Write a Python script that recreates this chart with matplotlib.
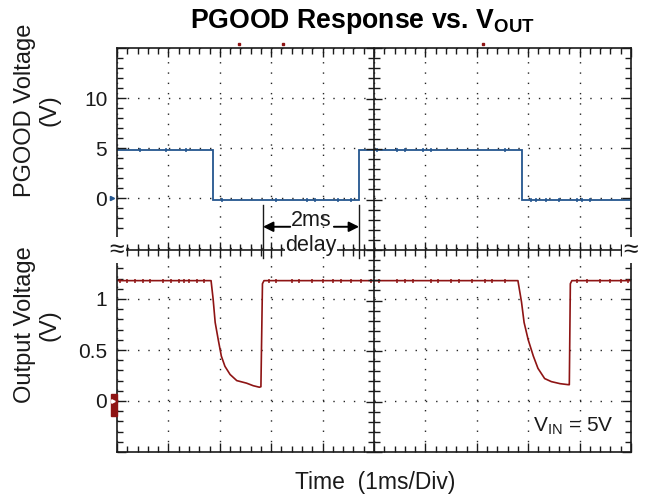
import matplotlib
matplotlib.use("Agg")
import matplotlib.pyplot as plt
from matplotlib.patches import Rectangle
from matplotlib.ticker import MultipleLocator, FixedLocator, FixedFormatter

plt.rcParams['font.family'] = ['Liberation Sans', 'DejaVu Sans']
plt.rcParams['mathtext.fontset'] = 'custom'
plt.rcParams['mathtext.rm'] = 'Liberation Sans'
plt.rcParams['mathtext.bf'] = 'Liberation Sans:bold'

# ---------------- data (time in ms = divisions) ----------------
pgood_edges = [0, 1.87, 4.71, 7.88, 10]
pgood_levels = [4.8, -0.2, 4.8, -0.2]

vout_t = [0, 1.83, 1.87, 1.91, 1.97, 2.03, 2.10, 2.20, 2.33, 2.52, 2.65, 2.77,
          2.80, 2.83, 2.86,
          7.80, 7.87, 7.92, 8.00, 8.10, 8.19, 8.32, 8.45, 8.62, 8.78, 8.80,
          8.82, 8.85, 10]
vout_v = [1.18, 1.18, 1.00, 0.77, 0.60, 0.44, 0.34, 0.26, 0.20, 0.175, 0.15, 0.135,
          0.14, 1.15, 1.18,
          1.18, 0.97, 0.77, 0.60, 0.44, 0.32, 0.22, 0.19, 0.17, 0.16, 0.16,
          1.15, 1.18, 1.18]

# small noise spikes visible on the traces
pgood_glitch_t = [0.45, 0.95, 1.35, 2.05, 3.10, 3.70, 3.85, 4.30, 4.55,
                  5.05, 5.45, 5.60, 5.95, 6.10, 7.55, 8.05, 8.15, 8.35, 8.60,
                  8.95, 9.05, 9.20]
pgood_glitch_v = [4.8, 4.8, 4.8, -0.2, -0.2, -0.2, -0.2, -0.2, -0.2,
                  4.8, 4.8, 4.8, 4.8, 4.8, 4.8, -0.2, -0.2, -0.2, -0.2,
                  -0.2, -0.2, -0.2]
vout_glitch_t = [0.05, 0.2, 0.35, 0.5, 0.65, 0.9, 1.05, 1.2, 1.3, 1.4, 1.55, 1.7,
                 2.95, 3.1, 3.4, 3.55, 3.8, 4.0, 4.2, 4.35, 4.55, 4.75, 4.95,
                 5.1, 5.45, 5.6, 5.75, 6.1, 6.25, 6.5, 6.65, 6.9, 7.15, 7.3, 7.55,
                 8.95, 9.15, 9.4, 9.6, 9.8, 9.95]
vout_glitch_v = [1.18] * len(vout_glitch_t)

pgood_ticks = [-5, 0, 5, 10, 15]
pgood_labels = ['', '0', '5', '10', '']
vout_ticks = [-0.5, 0, 0.5, 1.0, 1.5]
vout_labels = ['', '0', '0.5', '1', '']
trigger_marks_t = [2.38, 3.23, 7.12]
delay_start = 2.84   # Vout recovered
delay_end = pgood_edges[2]   # PGOOD asserted

BLUE = '#24568f'
RED = '#8e1414'
INK = '#1a1a1a'

W, H = 647, 503
fig = plt.figure(figsize=(W / 100, H / 100), dpi=100)
L, R = 117 / W, 631 / W
B, T, M = 1 - 452 / H, 1 - 48 / H, 1 - 248 / H

ax1 = fig.add_axes([L, M, R - L, T - M])
ax2 = fig.add_axes([L, B, R - L, M - B])
ax0 = fig.add_axes([L, B, R - L, T - B], facecolor='none')

grid_kw = dict(color='0.15', lw=1.0, linestyle=(0, (1, 6.4)))

for ax, ticks, labels, minor, lim in [
        (ax1, pgood_ticks, pgood_labels, 1.0, (-5, 15)),
        (ax2, vout_ticks, vout_labels, 0.1, (-0.5, 1.5))]:
    ax.set_xlim(0, 10)
    ax.set_ylim(*lim)
    ax.xaxis.set_major_locator(MultipleLocator(1))
    ax.xaxis.set_minor_locator(MultipleLocator(0.2))
    ax.yaxis.set_major_locator(FixedLocator(ticks))
    ax.yaxis.set_major_formatter(FixedFormatter(labels))
    ax.yaxis.set_minor_locator(MultipleLocator(minor))
    ax.grid(True, which='major', **grid_kw)
    ax.tick_params(which='both', direction='in', left=True, right=True,
                   labelbottom=False, colors=INK, labelsize=15, pad=7)
    ax.tick_params(which='major', length=6.5, width=1.0)
    ax.tick_params(which='minor', length=4, width=1.0)
    for s in ax.spines.values():
        s.set_linewidth(1.2)
        s.set_color(INK)

ax1.tick_params(which='both', top=True, bottom=False)
ax1.spines['bottom'].set_visible(False)
ax2.tick_params(which='both', top=False, bottom=True)
ax2.spines['top'].set_visible(False)

# traces
ax1.stairs(pgood_levels, pgood_edges, color=BLUE, lw=1.3, baseline=None)
ax1.plot(pgood_glitch_t, pgood_glitch_v, ls='none', marker='|', ms=3, mew=1.1, color=BLUE)
ax2.plot(vout_t, vout_v, color=RED, lw=1.2)
ax2.plot(vout_glitch_t, vout_glitch_v, ls='none', marker='|', ms=3, mew=1.1, color=RED)

# channel markers
ax1.plot([-0.09], [0], marker='>', ms=3, color=BLUE, clip_on=False)
ax2.add_patch(Rectangle((-0.117, -0.15), 0.117, 0.22, color=RED, clip_on=False, zorder=4))
ax2.plot([-0.07], [0], marker='>', ms=2.5, color='white', clip_on=False, zorder=5)
ax1.plot(trigger_marks_t, [15.4] * len(trigger_marks_t), ls='none', marker='s', ms=2,
         color=RED, clip_on=False)

# centre graticule (cross with in/out ticks)
ax0.set_xlim(0, 10)
ax0.set_ylim(0, 8)
ax0.spines['top'].set_visible(False)
ax0.spines['right'].set_visible(False)
ax0.spines['left'].set_position(('data', 5))
ax0.spines['bottom'].set_position(('data', 4))
for s in ('left', 'bottom'):
    ax0.spines[s].set_linewidth(1.2)
    ax0.spines[s].set_color(INK)
ax0.xaxis.set_major_locator(MultipleLocator(1))
ax0.xaxis.set_minor_locator(MultipleLocator(0.2))
ax0.yaxis.set_major_locator(MultipleLocator(1))
ax0.yaxis.set_minor_locator(MultipleLocator(0.2))
ax0.tick_params(which='both', direction='inout', labelleft=False, labelbottom=False,
                colors=INK, width=1.0)
ax0.tick_params(which='major', length=11)
ax0.tick_params(which='minor', length=8)

# broken-axis marks
for xx in (0, 10):
    ax0.text(xx, 4, '≈', ha='center', va='center', fontsize=19, color=INK,
             clip_on=False, zorder=6,
             bbox=dict(boxstyle='square,pad=0.05', fc='white', ec='none'))

# 2 ms delay annotation
for xx in (delay_start, delay_end):
    ax0.plot([xx, xx], [3.84, 4.89], color=INK, lw=1.0, zorder=5)
ax0.annotate('', xy=(delay_start, 4.46), xytext=(3.37, 4.46),
             arrowprops=dict(arrowstyle='-|>', color='black', lw=1.4,
                             mutation_scale=15, shrinkA=0, shrinkB=0))
ax0.annotate('', xy=(delay_end, 4.46), xytext=(4.22, 4.46),
             arrowprops=dict(arrowstyle='-|>', color='black', lw=1.4,
                             mutation_scale=15, shrinkA=0, shrinkB=0))
ax0.text(3.77, 4.58, '2ms', ha='center', va='center', fontsize=15.5, color=INK, zorder=6)
ax0.text(3.77, 4.08, 'delay', ha='center', va='center', fontsize=15.5, color=INK, zorder=6,
         bbox=dict(boxstyle='square,pad=0.02', fc='white', ec='none'))

ax0.text(9.65, 0.5, r'$\mathrm{V_{IN}}$ = 5V', ha='right', va='center',
         fontsize=15, color=INK, zorder=6)

# labels
fig.text(362 / W, 1 - 21 / H, r'PGOOD Response vs. $\mathbf{V_{OUT}}$',
         ha='center', va='center', fontsize=19.2, fontweight='bold', color='black')
fig.text(375 / W, 1 - 482 / H, 'Time  (1ms/Div)', ha='center', va='center',
         fontsize=16.5, color=INK)
fig.text(37 / W, 1 - 110 / H, 'PGOOD Voltage\n(V)', rotation=90, ha='center',
         va='center', multialignment='center', fontsize=17, color=INK, linespacing=1.15)
fig.text(37 / W, 1 - 325 / H, 'Output Voltage\n(V)', rotation=90, ha='center',
         va='center', multialignment='center', fontsize=17, color=INK, linespacing=1.15)

fig.savefig('out.png', dpi=100)
